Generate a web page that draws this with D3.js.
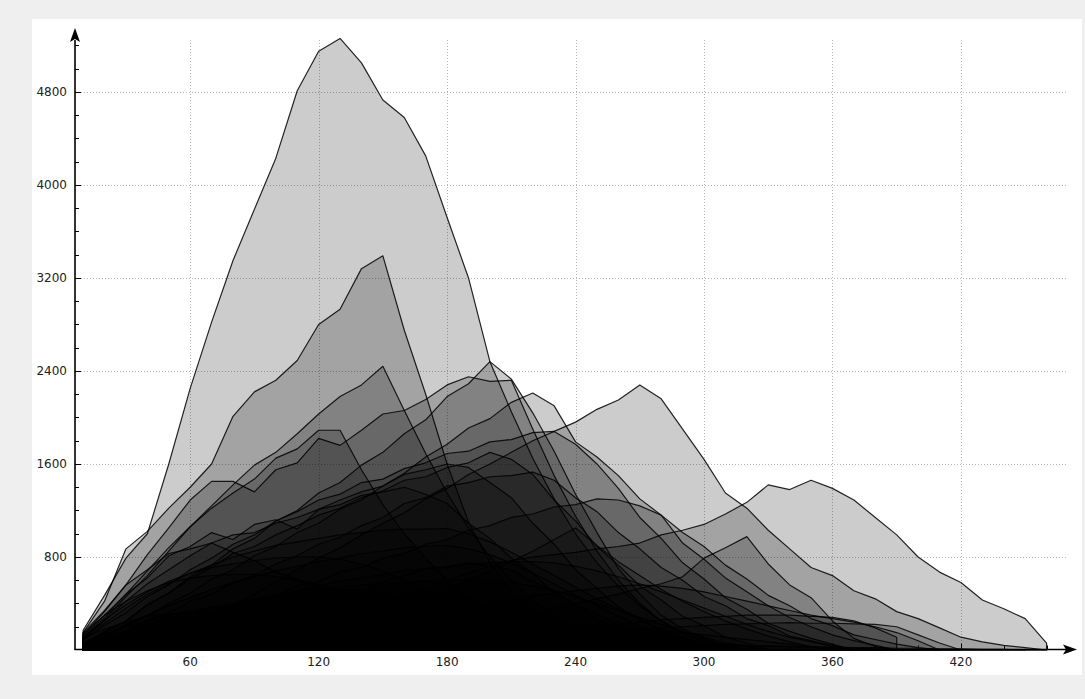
<!DOCTYPE html>
<html>
<head>
<meta charset="utf-8">
<script src="https://cdn.jsdelivr.net/npm/d3@7"></script>
<style>
  html, body { margin: 0; padding: 0; background: #efefef; }
  svg { display: block; }
</style>
</head>
<body>
<svg id="chart" width="1085" height="699"></svg>
<script>
// Sample positions shared by every series (null = no sample there)
const xValues = [10,20,30,40,50,60,70,80,90,100,110,120,130,140,150,160,170,180,190,200,
                 210,220,230,240,250,260,270,280,290,300,310,320,330,340,350,360,370,380,390,400,
                 410,420,430,440,450,460];
const xTicks = [60,120,180,240,300,360,420];
const yTicks = [800,1600,2400,3200,4000,4800];
const _ = null;

// Distribution curves
const s01 = [170,470,790,1000,1600,2250,2820,3350,3790,4230,4810,5150,5260,5050,4730,4580,4250,3720,3200,2480,2050,1650,1300,1000,750,550,380,250,150,80,30,0];
const s02 = [150,420,870,1020,1220,1400,1600,2010,2220,2320,2490,2800,2930,3280,3390,2750,2200,1600,1100,750,500,320,200,110,50,0];
const s03 = [100,260,460,640,850,1060,1240,1420,1590,1700,1860,2030,2180,2280,2440,2060,1690,1350,1050,800,600,430,300,200,120,60,0];
const s04 = [130,330,560,820,1050,1290,1450,1450,1360,1550,1610,1820,1760,1890,2030,2060,2155,2280,2350,2310,2320,1900,1500,1150,850,600,400,250,150,80,30,0];
const s05 = [110,280,480,680,880,1060,1220,1350,1470,1650,1730,1890,1890,1550,1250,1000,790,600,450,330,230,150,90,40,0];
const s06 = [50,150,250,390,490,630,730,870,960,1110,1200,1350,1440,1590,1700,1860,1980,2180,2290,2480,2330,2040,1710,1340,1010,700,480,300,180,100,40,0];
const s07 = [40,110,210,290,400,490,610,690,810,890,1010,1090,1210,1290,1410,1520,1660,1770,1910,1990,2130,2210,2100,1790,1660,1500,1300,1160,920,780,620,500,380,280,200,130,80,40,0];
const s08 = [_,_,_,50,110,190,280,390,480,590,690,790,880,990,1090,1180,1300,1390,1510,1600,1700,1800,1880,1960,2070,2150,2280,2160,1900,1640,1350,1220,1030,870,710,640,510,440,330,270,190,110,70,40,20,0];
const s09 = [_,_,_,_,_,_,_,_,_,100,150,200,270,350,420,480,540,600,660,720,770,800,820,840,870,890,920,990,1030,1080,1170,1270,1420,1380,1460,1390,1290,1140,990,800,670,580,430,355,270,60];
const s10 = [_,_,_,_,_,_,_,_,_,_,_,_,_,_,_,_,_,100,150,200,260,310,360,400,440,480,530,570,630,790,880,975,740,560,450,250,100,30,0];
const s11 = [80,210,320,460,560,690,790,910,990,1110,1190,1290,1340,1440,1470,1560,1610,1690,1710,1790,1810,1870,1880,1770,1600,1390,1140,960,750,610,450,350,230,160,100,50,0];
const s12 = [60,160,250,390,490,610,710,830,890,990,1070,1160,1220,1310,1370,1460,1490,1570,1610,1700,1640,1510,1290,1110,890,730,550,430,290,210,110,60,0];
const s13 = [120,300,480,620,810,890,1010,950,1080,1120,1040,1210,1290,1360,1410,1510,1550,1600,1570,1440,1310,1090,910,690,530,370,270,160,110,50,0];
const s14 = [100,250,420,570,690,810,920,990,1010,1090,1140,1210,1250,1330,1360,1400,1340,1260,1090,960,790,660,490,390,260,190,100,60,0];
const s15 = [150,340,560,690,830,870,920,840,770,670,610,540,520,510,590,640,700,710,750,720,690,590,510,390,310,210,160,80,40,0];
const s16 = [40,110,160,260,320,420,480,580,640,740,810,910,970,1070,1140,1260,1310,1410,1440,1490,1500,1530,1460,1310,1190,1010,870,710,600,460,380,270,210,120,80,40,0];
const s17 = [20,60,110,140,210,240,310,350,430,470,550,590,670,710,790,830,910,950,1030,1070,1140,1170,1230,1250,1300,1290,1240,1160,1010,890,730,610,470,380,270,210,130,90,50,20,0];
const s18 = [90,230,360,480,570,660,730,800,850,900,930,960,990,1010,1030,1040,1040,1045,1000,930,840,740,640,540,440,350,260,180,110,50,0];
const s19 = [50,130,220,300,380,450,520,580,630,680,720,760,790,830,850,880,890,900,870,820,750,660,570,470,380,290,210,140,80,30,0];
const s20 = [110,260,390,500,590,660,710,740,770,790,800,800,780,740,680,600,520,430,340,260,190,120,70,30,0];
const s21 = [30,80,130,180,230,280,330,380,430,470,510,550,590,620,650,680,700,720,740,750,760,760,750,720,680,630,570,500,430,360,290,220,160,110,70,30,0];
const s22 = [140,300,420,510,580,620,640,650,650,630,600,560,510,460,400,340,280,220,170,120,80,40,0];
const s23 = [40,100,160,220,270,320,360,400,440,470,500,520,540,560,570,580,590,600,600,600,580,550,510,460,400,340,280,220,160,110,60,30,0];
const s24 = [_,_,_,_,_,_,20,50,80,110,140,170,200,230,260,290,320,350,380,410,440,470,490,510,530,550,560,550,530,500,460,420,380,340,300,270,240,200,150,80,0];
const s25 = [60,140,200,250,300,340,370,400,420,440,455,465,475,480,480,470,450,420,380,330,280,230,180,130,90,50,20,0];
const s26 = [_,_,_,_,_,_,_,_,_,_,_,_,_,_,_,_,_,_,_,40,70,100,130,160,190,220,240,260,270,280,290,300,300,300,290,280,250,190,110];
const s27 = [_,_,_,_,_,_,_,_,_,_,_,_,_,_,_,_,_,_,_,_,_,_,50,90,120,150,170,190,200,210,220,225,230,235,230,230,225,220,200,130,60,0];
const s28 = [100,180,240,290,310,320,320,310,290,270,250,230,210,190,170,150,130,110,90,70,50,30,10,0];
const s29 = [30,60,90,120,140,160,180,190,200,210,220,230,240,240,245,250,250,250,250,250,245,240,230,220,210,200,185,170,150,130,110,90,70,50,30,10,0];
const s30 = [60,90,110,120,130,135,140,145,150,150,150,150,145,140,135,130,120,110,100,90,80,70,60,50,40,30,20,10,0];
const s31 = [40,60,70,80,85,90,95,100,100,100,100,100,100,100,100,100,100,95,95,90,90,85,80,80,75,70,65,60,55,50,45,40,35,30,25,20,15,10,5,0];
const s32 = [_,_,_,_,_,_,_,_,_,_,_,_,_,_,_,300,420,520,600,680,760,850,950,1050,900,760,640,520,420,330,250,180,120,70,30,0];
const s33 = [20,35,45,50,55,60,60,65,65,65,65,65,65,60,60,60,60,60,55,55,55,50,50,50,45,45,45,40,40,40,35,35,30,30,25,25,20,20,15,15,10,10,5,5,0];

const seriesList = [s01,s02,s03,s04,s05,s06,s07,s08,s09,s10,s11,s12,s13,s14,s15,s16,s17,
                    s18,s19,s20,s21,s22,s23,s24,s25,s26,s27,s28,s29,s30,s31,s32,s33];

const svg = d3.select('#chart');

// White plotting panel on the grey frame
svg.append('rect')
  .attr('x', 32).attr('y', 19).attr('width', 1050).attr('height', 656)
  .attr('fill', '#ffffff');

const x = d3.scaleLinear().domain([6.2, 470]).range([75, 1068]);
const y = d3.scaleLinear().domain([0, 5250]).range([650, 39.6]);

// Dotted grid
const grid = svg.append('g')
  .attr('stroke', '#b5b5b5')
  .attr('stroke-width', 1)
  .attr('stroke-dasharray', '1,2');
grid.selectAll('line.gx').data(xTicks).join('line')
  .attr('class', 'gx')
  .attr('x1', d => Math.round(x(d)) + 0.5).attr('x2', d => Math.round(x(d)) + 0.5)
  .attr('y1', y(0)).attr('y2', y(5250));
grid.selectAll('line.gy').data(yTicks).join('line')
  .attr('class', 'gy')
  .attr('y1', d => Math.round(y(d)) + 0.5).attr('y2', d => Math.round(y(d)) + 0.5)
  .attr('x1', x(6.2)).attr('x2', x(470));

// Translucent filled areas
const area = d3.area()
  .x(d => x(d.x))
  .y0(y(0))
  .y1(d => y(d.v));

const layers = svg.append('g');
seriesList.forEach(values => {
  const pts = values
    .map((v, i) => ({ x: xValues[i], v: v }))
    .filter(d => d.v !== null && d.v !== undefined);
  layers.append('path')
    .datum(pts)
    .attr('d', area)
    .attr('fill', '#000')
    .attr('fill-opacity', 0.2)
    .attr('stroke', '#000')
    .attr('stroke-opacity', 0.85)
    .attr('stroke-width', 1.2)
    .attr('stroke-linejoin', 'round');
});

// Axes with arrow heads
const axisG = svg.append('g');
const axisY = 649.5;
const axisX = 75;
axisG.append('line')
  .attr('x1', axisX).attr('x2', axisX)
  .attr('y1', axisY + 0.5).attr('y2', 40)
  .attr('stroke', '#000').attr('stroke-width', 1.6);
axisG.append('line')
  .attr('x1', axisX - 0.5).attr('x2', 1066)
  .attr('y1', axisY).attr('y2', axisY)
  .attr('stroke', '#000').attr('stroke-width', 1.6);
axisG.append('path')
  .attr('d', `M${axisX},28 L${axisX - 5},42 L${axisX},39 L${axisX + 5},42 Z`)
  .attr('fill', '#000');
axisG.append('path')
  .attr('d', `M1077,${axisY} L1063,${axisY - 5} L1066,${axisY} L1063,${axisY + 5} Z`)
  .attr('fill', '#000');

// Tick marks
const yMinor = d3.range(200, 5250, 200).filter(v => v % 800 !== 0);
const xMinor = d3.range(20, 470, 20).filter(v => v % 60 !== 0);
axisG.selectAll('line.ytm').data(yTicks).join('line')
  .attr('x1', axisX).attr('x2', axisX + 6)
  .attr('y1', d => Math.round(y(d)) + 0.5).attr('y2', d => Math.round(y(d)) + 0.5)
  .attr('stroke', '#000');
axisG.selectAll('line.ytn').data(yMinor).join('line')
  .attr('x1', axisX).attr('x2', axisX + 4)
  .attr('y1', d => Math.round(y(d)) + 0.5).attr('y2', d => Math.round(y(d)) + 0.5)
  .attr('stroke', '#000');
axisG.selectAll('line.xtm').data(xTicks).join('line')
  .attr('x1', d => Math.round(x(d)) + 0.5).attr('x2', d => Math.round(x(d)) + 0.5)
  .attr('y1', axisY).attr('y2', axisY - 6)
  .attr('stroke', '#000');
axisG.selectAll('line.xtn').data(xMinor).join('line')
  .attr('x1', d => Math.round(x(d)) + 0.5).attr('x2', d => Math.round(x(d)) + 0.5)
  .attr('y1', axisY).attr('y2', axisY - 4)
  .attr('stroke', '#000');

// Tick labels
const labelFont = '"DejaVu Sans", Verdana, sans-serif';
svg.append('g').selectAll('text').data(yTicks).join('text')
  .attr('x', 67)
  .attr('y', d => y(d) + 4)
  .attr('text-anchor', 'end')
  .attr('font-family', labelFont)
  .attr('font-size', 12)
  .attr('fill', '#222')
  .text(d => d);
svg.append('g').selectAll('text').data(xTicks).join('text')
  .attr('x', d => x(d))
  .attr('y', 666)
  .attr('text-anchor', 'middle')
  .attr('font-family', labelFont)
  .attr('font-size', 12)
  .attr('fill', '#222')
  .text(d => d);
</script>
</body>
</html>
